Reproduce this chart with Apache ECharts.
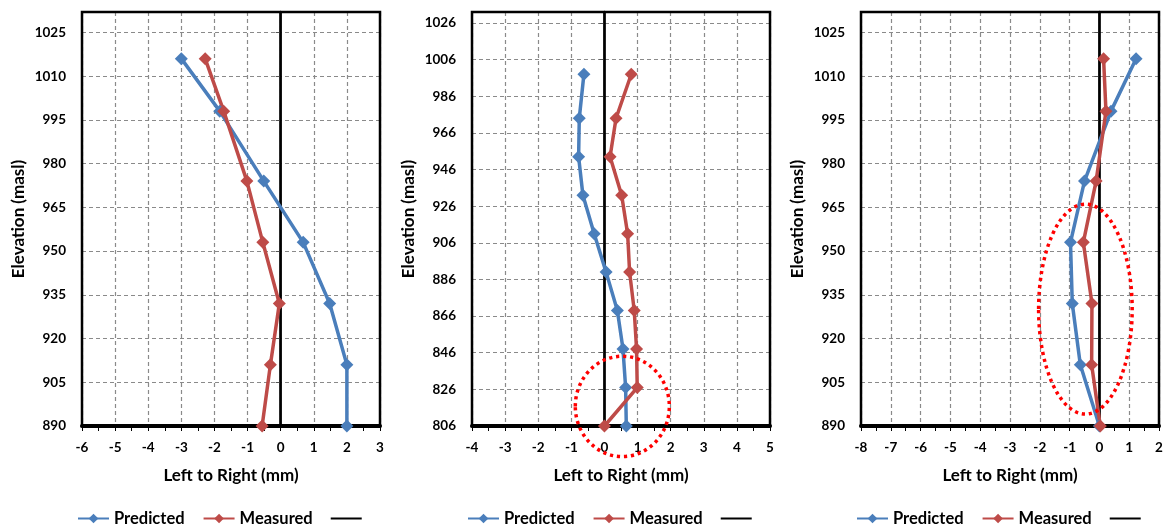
<!DOCTYPE html>
<html><head><meta charset="utf-8">
<script src="https://cdn.jsdelivr.net/npm/echarts@6/dist/echarts.min.js"></script>
<style>html,body{margin:0;padding:0;background:#fff}#c{width:1166px;height:527px}</style>
</head><body><div id="c"></div>
<script>
// ---- data ----
const elevA = [1016, 998, 974, 953, 932, 911, 890];
const predA = [-3.0, -1.84, -0.51, 0.68, 1.48, 2.0, 2.0];
const measA = [-2.28, -1.72, -1.02, -0.54, -0.04, -0.31, -0.56];

const elevB = [998, 974, 953, 932, 911, 890, 869, 848, 827, 806];
const predB = [-0.62, -0.76, -0.78, -0.65, -0.31, 0.05, 0.39, 0.56, 0.64, 0.66];
const measB = [0.81, 0.35, 0.17, 0.52, 0.70, 0.76, 0.90, 0.97, 0.99, 0.0];

const elevC = [1016, 998, 974, 953, 932, 911, 890];
const predC = [1.23, 0.39, -0.50, -0.97, -0.91, -0.64, 0.0];
const measC = [0.14, 0.22, -0.11, -0.54, -0.25, -0.26, 0.03];

const xRangeA = [-6, 3], xRangeB = [-4, 5], xRangeC = [-8, 2];
const yRangeA = [890, 1032], yRangeB = [806, 1032], yRangeC = [890, 1032];
const yStepA = 15, yStepB = 20, yStepC = 15;

const seriesNames = ['Predicted', 'Measured', ' '];
// annotation rings: [centre x, centre y, radius x, radius y] in data units
const ringB = [0.54, 816.7, 1.42, 27.4];
const ringC = [-0.47, 930.1, 1.57, 36];

// ---- layout / style ----
const FONT = 'Lato';
const BLUE = '#4A7EBB', RED = '#BE4B48';
const gridLefts = [82, 472, 861];
const gridW = 298, gridTop = 12, gridH = 414;

const panels = [
  {elev: elevA, pred: predA, meas: measA, xr: xRangeA, yr: yRangeA, ys: yStepA},
  {elev: elevB, pred: predB, meas: measB, xr: xRangeB, yr: yRangeB, ys: yStepB},
  {elev: elevC, pred: predC, meas: measC, xr: xRangeC, yr: yRangeC, ys: yStepC}
];

const grid = [], xAxis = [], yAxis = [], series = [], legend = [];
panels.forEach((p, i) => {
  grid.push({left: gridLefts[i], top: gridTop, width: gridW, height: gridH,
    show: true, borderColor: '#000', borderWidth: 2.5, backgroundColor: 'transparent', z: 3});
  xAxis.push({type: 'value', gridIndex: i, min: p.xr[0], max: p.xr[1], interval: 1,
    name: 'Left to Right (mm)', nameLocation: 'middle', nameGap: 41,
    nameTextStyle: {fontFamily: FONT, fontWeight: 'bold', fontSize: 17, color: '#000'},
    axisLine: {show: true, onZero: false, lineStyle: {color: '#000', width: 4}},
    axisTick: {show: true, length: 5, lineStyle: {color: '#000', width: 1}},
    minorTick: {show: true, splitNumber: 2, length: 5, lineStyle: {color: '#000', width: 1}},
    axisLabel: {fontFamily: FONT, fontWeight: 'bold', fontSize: 13.5, color: '#000', margin: 15},
    splitLine: {show: true, lineStyle: {color: '#8a8a8a', width: 1.2, type: [4, 3]}}
  });
  yAxis.push({type: 'value', gridIndex: i, min: p.yr[0], max: p.yr[1], interval: p.ys,
    name: 'Elevation (masl)', nameLocation: 'middle', nameGap: 55, nameRotate: 90,
    nameTextStyle: {fontFamily: FONT, fontWeight: 'bold', fontSize: 17, color: '#000'},
    axisLine: {show: true, lineStyle: {color: '#000', width: 2.5}},
    axisTick: {show: true, length: 5, lineStyle: {color: '#555', width: 1}},
    axisLabel: {fontFamily: FONT, fontWeight: 'bold', fontSize: 13.5, color: '#000', margin: 16,
      showMaxLabel: false, formatter: v => String(v)},
    splitLine: {show: true, lineStyle: {color: '#8a8a8a', width: 1.2, type: [4, 3]}}
  });
  series.push({name: seriesNames[2], type: 'line', xAxisIndex: i, yAxisIndex: i, z: 1,
    symbol: 'none', lineStyle: {color: '#000', width: 2}, itemStyle: {color: '#000'},
    data: [[0, p.yr[0]], [0, p.yr[1]]], silent: true, animation: false});
  series.push({name: seriesNames[0], type: 'line', xAxisIndex: i, yAxisIndex: i, z: 4,
    symbol: 'diamond', symbolSize: 13, lineStyle: {color: BLUE, width: 3.5}, itemStyle: {color: BLUE},
    data: p.elev.map((e, k) => [p.pred[k], e]), animation: false});
  series.push({name: seriesNames[1], type: 'line', xAxisIndex: i, yAxisIndex: i, z: 4,
    symbol: 'diamond', symbolSize: 13, lineStyle: {color: RED, width: 3.5}, itemStyle: {color: RED},
    data: p.elev.map((e, k) => [p.meas[k], e]), animation: false});
  legend.push({left: gridLefts[i] - 5, top: 510, padding: 0, itemWidth: 31, itemHeight: 12, itemGap: 18,
    data: [seriesNames[0], seriesNames[1], {name: seriesNames[2], icon: 'path://M0,0H31V2H0Z'}],
    selectedMode: false,
    textStyle: {fontFamily: FONT, fontWeight: 'bold', fontSize: 16.5, color: '#000'}});
});

const chart = echarts.init(document.getElementById('c'), null, {renderer: 'canvas'});
chart.setOption({backgroundColor: '#fff', animation: false, grid, xAxis, yAxis, series, legend});

function ring(r, gi) {
  const c = chart.convertToPixel({gridIndex: gi}, [r[0], r[1]]);
  const e = chart.convertToPixel({gridIndex: gi}, [r[0] + r[2], r[1] + r[3]]);
  return {type: 'ellipse', z: 100, silent: true,
    shape: {cx: c[0], cy: c[1], rx: Math.abs(e[0] - c[0]), ry: Math.abs(e[1] - c[1])},
    style: {fill: 'none', stroke: '#FF0000', lineWidth: 3.5, lineDash: [3.2, 3.8]}};
}
chart.setOption({graphic: [ring(ringB, 1), ring(ringC, 2)]});
</script></body></html>
